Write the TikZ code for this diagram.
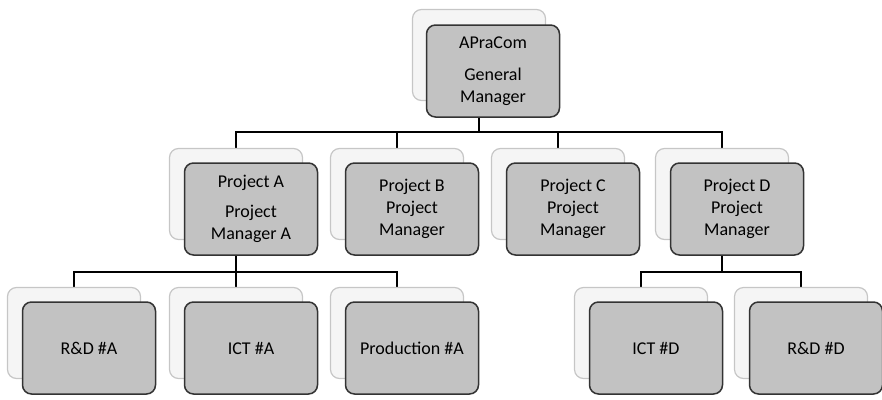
\documentclass[tikz,border=0pt]{standalone}
\usepackage{fontspec}
\setmainfont{Carlito}
\usetikzlibrary{backgrounds}

\begin{document}
\begin{tikzpicture}[
    x=1pt, y=-1pt,
    back/.style={rectangle, rounded corners=9pt, draw=gray!45, fill=gray!8,
                 line width=1.2pt, minimum width=133pt, minimum height=91pt},
    front/.style={rectangle, rounded corners=9pt, draw=black!80, fill=gray!48,
                  line width=1.5pt, minimum width=133pt, minimum height=92pt,
                  align=center, inner sep=2pt, font=\fontsize{18}{22}\selectfont},
    conn/.style={black, line width=2pt}
  ]
  \useasboundingbox (0,0) rectangle (882,399);

  % General manager
  \node[back] (gmb) at (479,55) {};
  \node[front] (gm) at ([shift={(14,16)}]gmb.center) {APraCom\\[10pt]General\\Manager};

  % Project managers
  \node[back] (pab) at (236,194) {};
  \node[front] (pa) at ([shift={(15,15)}]pab.center) {Project A\\[8pt]Project\\Manager A};
  \node[back] (pbb) at (397,194) {};
  \node[front] (pb) at ([shift={(15,15)}]pbb.center) {Project B\\Project\\Manager};
  \node[back] (pcb) at (558,194) {};
  \node[front] (pc) at ([shift={(15,15)}]pcb.center) {Project C\\Project\\Manager};
  \node[back] (pdb) at (722,194) {};
  \node[front] (pd) at ([shift={(15,15)}]pdb.center) {Project D\\Project\\Manager};

  % Units
  \node[back] (rdab) at (74,333) {};
  \node[front] (rda) at ([shift={(15,15)}]rdab.center) {R\&D \#A};
  \node[back] (ictab) at (236,333) {};
  \node[front] (icta) at ([shift={(15,15)}]ictab.center) {ICT \#A};
  \node[back] (prodab) at (397,333) {};
  \node[front] (proda) at ([shift={(15,15)}]prodab.center) {Production \#A};
  \node[back] (ictdb) at (641,333) {};
  \node[front] (ictd) at ([shift={(15,15)}]ictdb.center) {ICT \#D};
  \node[back] (rddb) at (801,333) {};
  \node[front] (rdd) at ([shift={(15,15)}]rddb.center) {R\&D \#D};

  % Connectors
  \begin{scope}[on background layer]
    \coordinate (bus1) at (gmb.south |- 0,132);
    \draw[conn] (gmb.south) -- (bus1);
    \draw[conn] (bus1) -| (pab.north);
    \draw[conn] (bus1) -| (pbb.north);
    \draw[conn] (bus1) -| (pcb.north);
    \draw[conn] (bus1) -| (pdb.north);

    \coordinate (busa) at (pab.south |- 0,272);
    \draw[conn] (pab.south) -- (busa);
    \draw[conn] (busa) -| (rdab.north);
    \draw[conn] (busa) -| (ictab.north);
    \draw[conn] (busa) -| (prodab.north);

    \coordinate (busd) at (pdb.south |- 0,272);
    \draw[conn] (pdb.south) -- (busd);
    \draw[conn] (busd) -| (ictdb.north);
    \draw[conn] (busd) -| (rddb.north);
  \end{scope}
\end{tikzpicture}
\end{document}
